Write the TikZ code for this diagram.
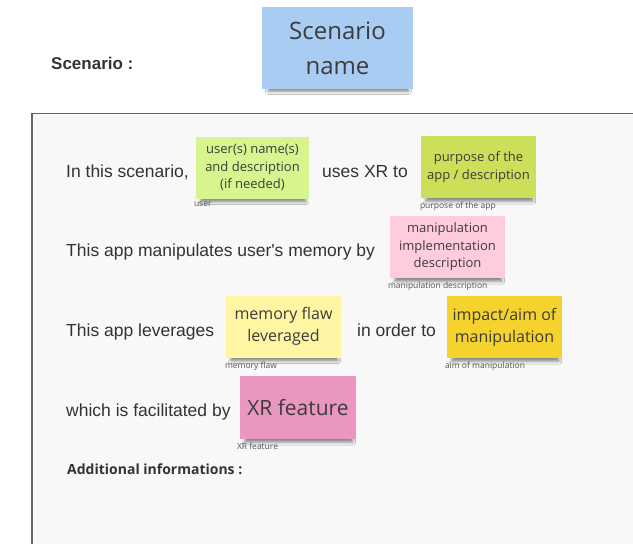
\documentclass[tikz,border=0pt]{standalone}
\usepackage{fontspec}
\setmainfont{Liberation Sans}
\newfontfamily\notefont{Open Sans}
\usetikzlibrary{positioning,shadows.blur}
\definecolor{frameline}{HTML}{666666}
\definecolor{framefill}{HTML}{F8F8F8}
\definecolor{maintext}{HTML}{333333}
\definecolor{notetext}{HTML}{3C3C3C}
\definecolor{tagtext}{HTML}{555555}
\definecolor{nblue}{HTML}{A8CCF2}
\definecolor{ngreen}{HTML}{D6F58E}
\definecolor{nlime}{HTML}{CDDE58}
\definecolor{npink}{HTML}{FFCCDE}
\definecolor{nyellow}{HTML}{FFF5A3}
\definecolor{norange}{HTML}{F5D22E}
\definecolor{nmagenta}{HTML}{EA96C0}
\begin{document}
\begin{tikzpicture}[x=1pt, y=-1pt,
    note/.style = {align=center, inner sep=0pt, text=notetext,
      minimum width=115pt, minimum height=62pt,
      blur shadow={shadow xshift=1pt, shadow yshift=-6pt, shadow scale=0.93,
        shadow blur radius=3pt, shadow opacity=45}},
    small/.style = {font=\notefont\fontsize{13}{17.5}\selectfont},
    big/.style = {font=\notefont\fontsize{16}{22}\selectfont},
    sent/.style = {anchor=base west, inner sep=0pt, text=maintext,
      font=\fontsize{17.5}{20}\selectfont},
    tag/.style = {anchor=north west, inner sep=0pt, text=tagtext,
      font=\notefont\fontsize{8.5}{10}\selectfont}]
    \clip (0,0) rectangle (633,544);
    \fill[white] (0,0) rectangle (633,544);
    \draw[frameline, line width=1.8pt, fill=framefill] (32,113.5) rectangle (680,600);
    % title
    \node[sent, font=\bfseries\fontsize{17}{20}\selectfont] (sc) at (51,69) {Scenario :};
    \node[note, fill=nblue, minimum width=151pt, minimum height=82pt,
      font=\notefont\fontsize{24}{35}\selectfont] (name) at (337.5,48) {Scenario\\name};
    % first row
    \node[sent] (s1) at (66,177) {In this scenario,};
    \node[note, small, fill=ngreen, minimum width=113pt] (user) at (252.5,167.5) {user(s) name(s)\\and description\\(if needed)};
    \node[tag] (tuser) at ([xshift=-2pt, yshift=-3pt]user.south west) {user};
    \node[sent] (s2) at (322,177) {uses XR to};
    \node[note, small, fill=nlime] (purp) at (478.5,167) {purpose of the\\app / description};
    \node[tag] (tpurp) at ([xshift=-1pt, yshift=-4pt]purp.south west) {purpose of the app};
    % second row
    \node[sent] (s3) at (66,256) {This app manipulates user\textquotesingle s memory by};
    \node[note, small, fill=npink] (manip) at (447.5,247) {manipulation\\implementation\\description};
    \node[tag] (tmanip) at ([xshift=-2pt, yshift=-4pt]manip.south west) {manipulation description};
    % third row
    \node[sent] (s4) at (66,336) {This app leverages};
    \node[note, big, fill=nyellow] (flaw) at (283.5,326.5) {memory flaw\\leveraged};
    \node[tag] (tflaw) at ([xshift=-1pt, yshift=-4pt]flaw.south west) {memory flaw};
    \node[sent] (s5) at (357,336) {in order to};
    \node[note, big, fill=norange] (aim) at (504.5,327) {impact/aim of\\manipulation};
    \node[tag] (taim) at ([xshift=-2pt, yshift=-4pt]aim.south west) {aim of manipulation};
    % fourth row
    \node[sent] (s6) at (66,416) {which is facilitated by};
    \node[note, fill=nmagenta, minimum width=116pt, minimum height=63pt,
      font=\notefont\fontsize{21}{25}\selectfont] (feat) at (298,407.5) {XR feature};
    \node[tag] (tfeat) at ([xshift=-3pt, yshift=-4pt]feat.south west) {XR feature};
    \node[sent, font=\notefont\bfseries\fontsize{14}{16}\selectfont] (add) at (67,474) {Additional informations :};
\end{tikzpicture}
\end{document}
